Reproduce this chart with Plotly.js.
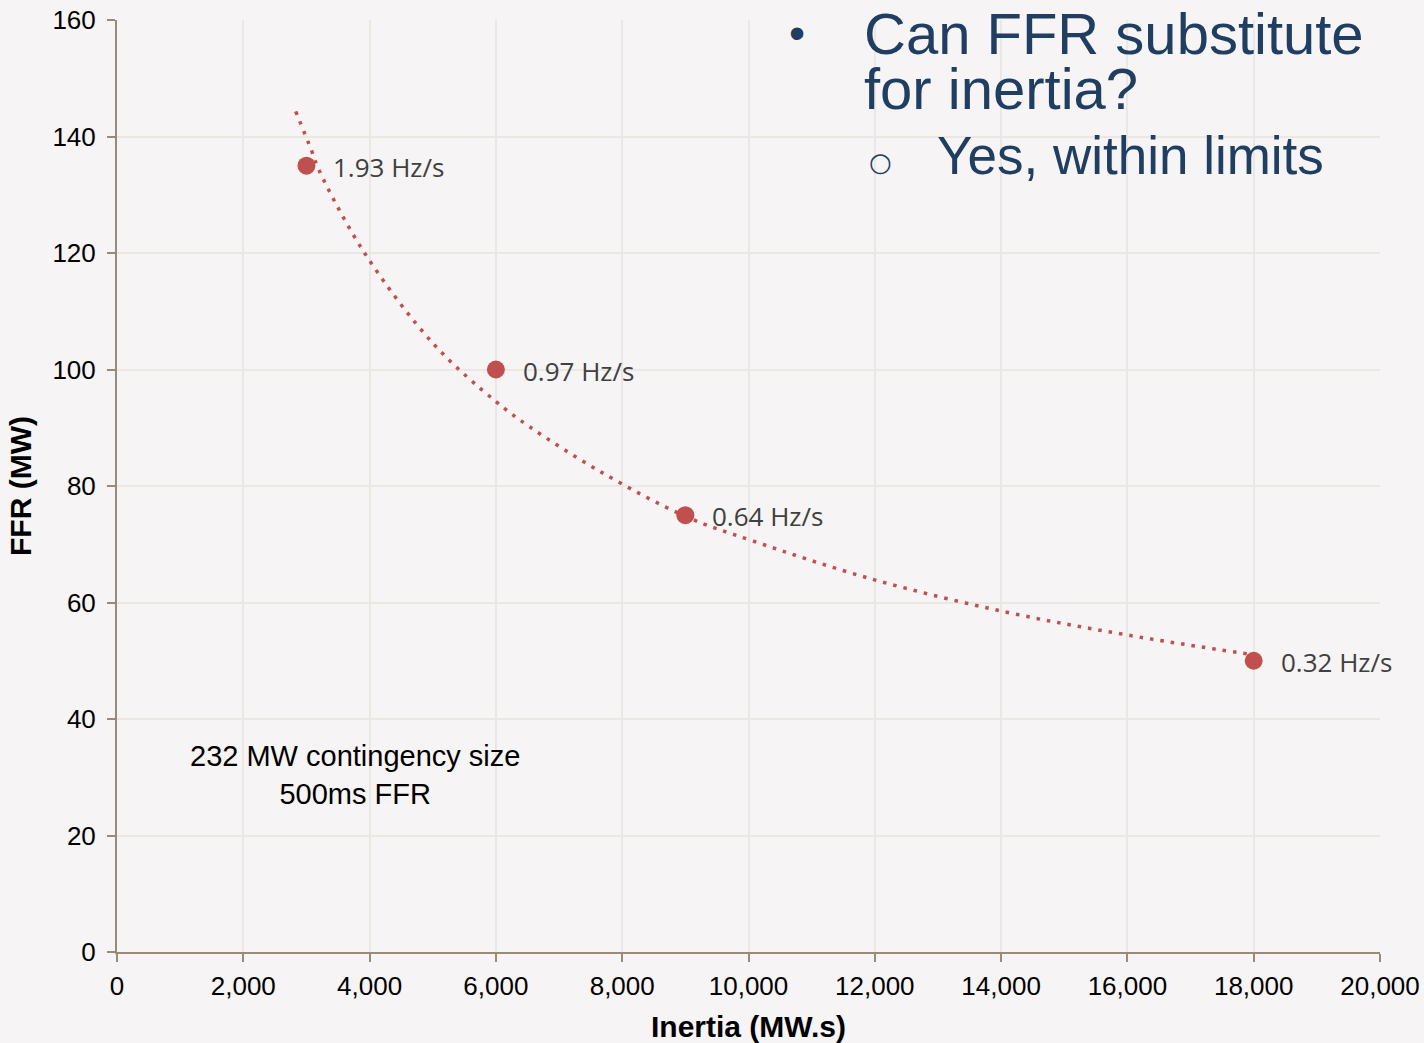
<!DOCTYPE html>
<html>
<head>
<meta charset="utf-8">
<script src="https://cdn.plot.ly/plotly-3.0.1.min.js"></script>
<style>html,body{margin:0;padding:0;background:#f6f4f4;}#chart{width:1424px;height:1043px;}</style>
</head>
<body>
<div id="chart"></div>
<script>
// Data points
const inertia = [3000, 6000, 9000, 18000];
const ffr = [135, 100, 75, 50];
const rocofLabels = ["1.93 Hz/s", "0.97 Hz/s", "0.64 Hz/s", "0.32 Hz/s"];

// Dotted trendline
const trendX = [2830, 3080, 3200, 3920, 5020, 6000, 6530, 7650, 9000, 10060, 11960, 14060, 16010, 18000];
const trendY = [144.3, 137.6, 134.2, 120.0, 104.3, 94.5, 90.2, 82.5, 74.8, 70.6, 64.0, 58.4, 54.4, 51.0];

const xTickVals = [0, 2000, 4000, 6000, 8000, 10000, 12000, 14000, 16000, 18000, 20000];
const xTickText = ["0", "2,000", "4,000", "6,000", "8,000", "10,000", "12,000", "14,000", "16,000", "18,000", "20,000"];
const yTickVals = [0, 20, 40, 60, 80, 100, 120, 140, 160];

const red = "#c0504d";
const navy = "#1f3e61";
const axisCol = "#9a8b78";
const gridCol = "#ebe8e4";

const traces = [
  {
    x: trendX, y: trendY, type: "scatter", mode: "lines",
    line: {color: red, width: 3.5, dash: "3.5px,7px", shape: "spline", smoothing: 1},
    hoverinfo: "skip", showlegend: false
  },
  {
    x: inertia, y: ffr, type: "scatter", mode: "markers",
    marker: {color: red, size: 18, line: {width: 0}},
    showlegend: false
  }
];

const annotations = rocofLabels.map((t, i) => ({
  x: inertia[i], y: ffr[i], xref: "x", yref: "y",
  text: t, showarrow: false, xanchor: "left", yanchor: "middle",
  xshift: 25, yshift: -1,
  font: {family: "Open Sans, sans-serif", size: 26, color: "#404040"}
}));

function px2x(px) { return (px - 117) / 1263; }
function py2y(py) { return (952 - py) / 932; }

annotations.push(
  {xref: "paper", yref: "paper", x: px2x(355), y: py2y(775), text: "232 MW contingency size<br>500ms FFR",
   showarrow: false, xanchor: "center", yanchor: "middle", align: "center",
   font: {family: "Liberation Sans, Arial, sans-serif", size: 29, color: "#000000"}},
  {xref: "paper", yref: "paper", x: px2x(797), y: py2y(33), text: "•", showarrow: false,
   xanchor: "center", yanchor: "middle", font: {family: "Liberation Sans, Arial", size: 46, color: navy}},
  {xref: "paper", yref: "paper", x: px2x(862), y: py2y(33), text: "Can FFR substitute", showarrow: false,
   xanchor: "left", yanchor: "middle", font: {family: "Liberation Sans, Arial", size: 58, color: navy}},
  {xref: "paper", yref: "paper", x: px2x(862), y: py2y(88), text: "for inertia?", showarrow: false,
   xanchor: "left", yanchor: "middle", font: {family: "Liberation Sans, Arial", size: 58, color: navy}},
  {xref: "paper", yref: "paper", x: px2x(880), y: py2y(162), text: "○", showarrow: false,
   xanchor: "center", yanchor: "middle", font: {family: "DejaVu Sans", size: 26, color: navy}},
  {xref: "paper", yref: "paper", x: px2x(935), y: py2y(156), text: "Yes, within limits", showarrow: false,
   xanchor: "left", yanchor: "middle", font: {family: "Liberation Sans, Arial", size: 53, color: navy}}
);

const layout = {
  width: 1424, height: 1043,
  margin: {l: 117, r: 44, t: 20, b: 91},
  paper_bgcolor: "#f6f4f4", plot_bgcolor: "#f6f4f4",
  showlegend: false,
  font: {family: "Liberation Sans, Arial, sans-serif", color: "#000000"},
  xaxis: {
    range: [0, 20000], tickvals: xTickVals, ticktext: xTickText,
    showgrid: true, gridcolor: gridCol, gridwidth: 2,
    showline: true, linecolor: axisCol, linewidth: 2,
    ticks: "outside", ticklen: 8, tickcolor: axisCol, tickwidth: 2,
    zeroline: false, ticklabelstandoff: 2,
    tickfont: {size: 26, color: "#000000"},
    title: {text: "<b>Inertia (MW.s)</b>", font: {size: 30, color: "#000000"}, standoff: 16}
  },
  yaxis: {
    range: [0, 160], tickvals: yTickVals,
    showgrid: true, gridcolor: gridCol, gridwidth: 2,
    showline: true, linecolor: axisCol, linewidth: 2,
    ticks: "outside", ticklen: 8, tickcolor: axisCol, tickwidth: 2,
    zeroline: false, ticklabelstandoff: 6,
    tickfont: {size: 26, color: "#000000"},
    title: {text: "<b>FFR (MW)</b>", font: {size: 30, color: "#000000"}, standoff: 12}
  },
  annotations: annotations
};

Plotly.newPlot("chart", traces, layout, {displayModeBar: false, staticPlot: true});
</script>
</body>
</html>
